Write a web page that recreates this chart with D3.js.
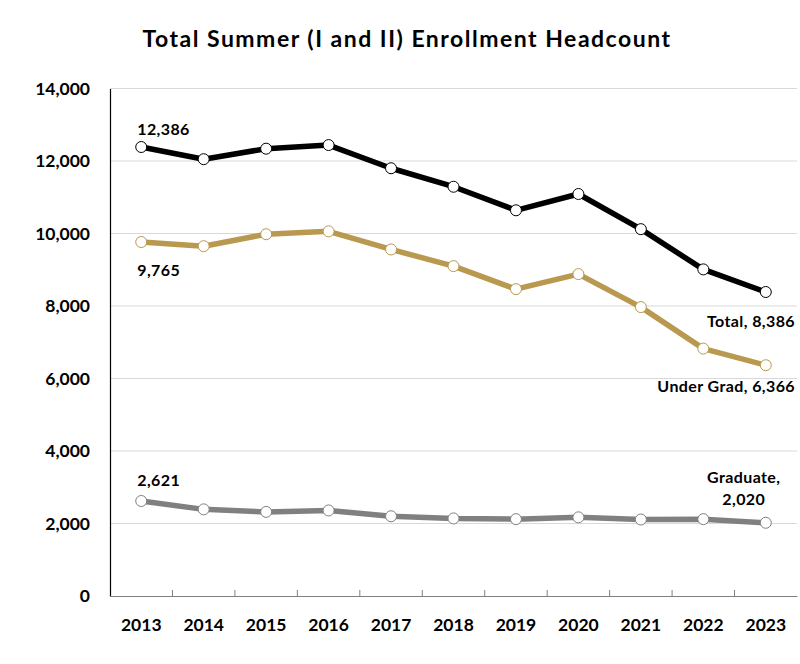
<!DOCTYPE html>
<html>
<head>
<meta charset="utf-8">
<script src="https://cdn.jsdelivr.net/npm/d3@7"></script>
<style>
  body { margin: 0; background: #fff; }
  svg text { font-family: Lato, "Open Sans", sans-serif; font-weight: bold; fill: #000; }
</style>
</head>
<body>
<div id="chart"></div>
<script>
var years = ['2013','2014','2015','2016','2017','2018','2019','2020','2021','2022','2023'];
var total = [12386, 12050, 12340, 12440, 11800, 11290, 10640, 11090, 10120, 9010, 8386];
var underGrad = [9765, 9650, 9980, 10060, 9560, 9100, 8465, 8880, 7970, 6825, 6366];
var graduate = [2621, 2390, 2320, 2360, 2200, 2140, 2120, 2170, 2110, 2120, 2020];
var yTicks = [0, 2000, 4000, 6000, 8000, 10000, 12000, 14000];

var width = 800, height = 664;
var margin = {top: 88.5, right: 3, bottom: 68, left: 110};

var svg = d3.select('#chart').append('svg')
    .attr('width', width)
    .attr('height', height);

var x = d3.scaleBand()
    .domain(years)
    .range([margin.left, width - margin.right]);

var y = d3.scaleLinear()
    .domain([0, 14000])
    .range([height - margin.bottom, margin.top]);

// title
svg.append('text')
    .attr('x', 407)
    .attr('y', 47)
    .attr('text-anchor', 'middle')
    .style('font-size', '23px')
    .style('letter-spacing', '1.5px')
    .text('Total Summer (I and II) Enrollment Headcount');

// gridlines
svg.append('g')
    .selectAll('line')
    .data(yTicks.slice(1))
    .enter().append('line')
    .attr('x1', margin.left)
    .attr('x2', width - margin.right)
    .attr('y1', function(d){ return y(d); })
    .attr('y2', function(d){ return y(d); })
    .style('stroke', '#d9d9d9')
    .style('stroke-width', 1);

// y axis
var yAxis = svg.append('g')
    .attr('transform', 'translate(' + margin.left + ',0)')
    .call(d3.axisLeft(y).tickValues(yTicks).tickSize(0).tickPadding(20).tickFormat(d3.format(',')));
yAxis.select('.domain').style('stroke', '#000').style('stroke-width', 1.2);
yAxis.selectAll('text').style('font-size', '17.5px');

// x axis
var xAxis = svg.append('g')
    .attr('transform', 'translate(0,' + y(0) + ')')
    .call(d3.axisBottom(x).tickSize(0).tickPadding(23));
xAxis.select('.domain').style('stroke', '#7f7f7f').style('stroke-width', 1.2);
xAxis.selectAll('text').style('font-size', '17.5px');

// tick marks between categories
xAxis.selectAll('.sep')
    .data(years.slice(1))
    .enter().append('line')
    .attr('class', 'sep')
    .attr('x1', function(d){ return x(d); })
    .attr('x2', function(d){ return x(d); })
    .attr('y1', 0)
    .attr('y2', -6)
    .style('stroke', '#7f7f7f')
    .style('stroke-width', 1);

var series = [
    {name: 'Total', values: total, color: '#000000'},
    {name: 'Under Grad', values: underGrad, color: '#b9994f'},
    {name: 'Graduate', values: graduate, color: '#808080'}
];

var line = d3.line()
    .x(function(d, i){ return x(years[i]) + x.bandwidth()/2; })
    .y(function(d){ return y(d); });

series.forEach(function(s){
    svg.append('path')
        .datum(s.values)
        .attr('d', line)
        .style('fill', 'none')
        .style('stroke', s.color)
        .style('stroke-width', 5.5)
        .style('stroke-linejoin', 'round');

    svg.append('g').selectAll('circle')
        .data(s.values)
        .enter().append('circle')
        .attr('cx', function(d, i){ return x(years[i]) + x.bandwidth()/2; })
        .attr('cy', function(d){ return y(d); })
        .attr('r', 5.5)
        .style('fill', '#fff')
        .style('stroke', s.color)
        .style('stroke-width', 1);
});

// data labels
var fmt = d3.format(',');
var first = x(years[0]) + x.bandwidth()/2;
var last = x(years[years.length-1]) + x.bandwidth()/2;
function label(txt, xx, yy, anchor) {
    svg.append('text')
        .attr('x', xx)
        .attr('y', yy)
        .attr('text-anchor', anchor || 'start')
        .style('font-size', '16px')
        .style('letter-spacing', '0.4px')
        .text(txt);
}
label(fmt(total[0]), first - 4, y(total[0]) - 12);
label(fmt(underGrad[0]), first - 4, y(underGrad[0]) + 34);
label(fmt(graduate[0]), first - 4, y(graduate[0]) - 15);
label('Total, ' + fmt(total[10]), width - 5, y(total[10]) + 35, 'end');
label('Under Grad, ' + fmt(underGrad[10]), width - 5, y(underGrad[10]) + 27, 'end');
label('Graduate,', last - 22, y(graduate[10]) - 40, 'middle');
label(fmt(graduate[10]), last - 22, y(graduate[10]) - 18, 'middle');
</script>
</body>
</html>
